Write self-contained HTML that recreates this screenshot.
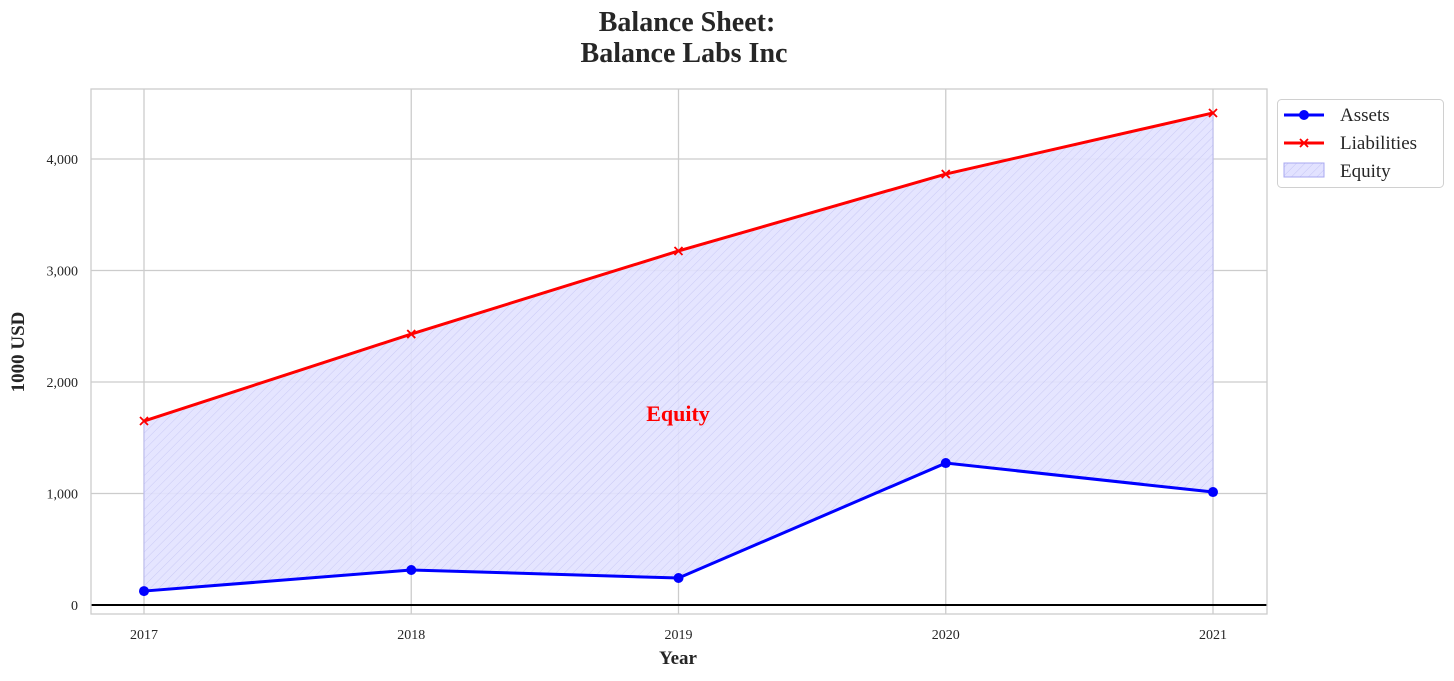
<!DOCTYPE html>
<html><head><meta charset="utf-8"><style>
body{margin:0;background:#fff;}
svg text{font-family:"Liberation Serif",serif;fill:#262626;}
</style></head><body>
<svg id="c" width="1454" height="676">
<defs>
<pattern id="hatch" width="6" height="6" patternUnits="userSpaceOnUse" patternTransform="rotate(45)">
<rect width="6" height="6" fill="#e2e2ff"/>
<line x1="0" y1="0" x2="0" y2="6" stroke="#c4c4f4" stroke-width="1"/>
</pattern>
</defs>
<text x="687" y="31" text-anchor="middle" font-size="28" font-weight="bold">Balance Sheet:</text>
<text x="684" y="62" text-anchor="middle" font-size="28" font-weight="bold">Balance Labs Inc</text>
<g id="grid"></g>
<g id="marks"></g>
<rect x="91" y="89" width="1176" height="525" fill="none" stroke="#cccccc" stroke-width="1.3"/>
<text x="678" y="664" text-anchor="middle" font-size="19" font-weight="bold">Year</text>
<text transform="translate(24,352) rotate(-90)" text-anchor="middle" font-size="19" font-weight="bold">1000 USD</text>
<text x="678" y="421" text-anchor="middle" font-size="22" font-weight="bold" style="fill:#ff0000">Equity</text>
<g>
<rect x="1277.5" y="99.5" width="166" height="88" rx="4" fill="#fff" stroke="#d0d0d0"/>
<g>
<line x1="1284" y1="115" x2="1324" y2="115" stroke="#0000ff" stroke-width="3"/>
<circle cx="1304" cy="115" r="5" fill="#0000ff"/>
<text x="1340" y="121" font-size="19">Assets</text></g>
<g>
<line x1="1284" y1="143" x2="1324" y2="143" stroke="#ff0000" stroke-width="3"/>
<path d="M1300 139 l8 8 M1308 139 l-8 8" stroke="#ff0000" stroke-width="1.8"/>
<text x="1340" y="149" font-size="19">Liabilities</text></g>
<g>
<rect x="1284" y="163" width="40" height="14" fill="url(#hatch)" stroke="#a8a8f0"/>
<text x="1340" y="177" font-size="19">Equity</text></g>
</g>
</svg>
<script>
const years=["2017","2018","2019","2020","2021"];
const assets=[125,314,242,1273,1013];
const liabilities=[1650,2430,3175,3865,4413];
const yTicks=[0,1000,2000,3000,4000];
const yTickLabels=["0","1,000","2,000","3,000","4,000"];
const NS="http://www.w3.org/2000/svg";
const xS=i=>144+i*267.25;
const yS=v=>605-v*0.1115;
function mk(tag,attrs,parent,txt){const e=document.createElementNS(NS,tag);for(const k in attrs)e.setAttribute(k,attrs[k]);if(txt!==undefined)e.textContent=txt;parent.appendChild(e);return e;}
const g=document.getElementById('grid'),m=document.getElementById('marks');
yTicks.forEach((t,i)=>{
 const l=mk('line',{x1:91,x2:1267,y1:yS(t),y2:yS(t),stroke:'#cccccc','stroke-width':1.3},g);
 
 
 const tx=mk('text',{x:78,y:yS(t)+5,'text-anchor':'end','font-size':14},g,yTickLabels[i]);
 
 
});
years.forEach((y,i)=>{
 const l=mk('line',{x1:xS(i),x2:xS(i),y1:89,y2:614,stroke:'#cccccc','stroke-width':1.3},g);
 
 
 const tx=mk('text',{x:xS(i),y:639,'text-anchor':'middle','font-size':14},g,y);
 
 
});
let pts=years.map((_,i)=>xS(i)+','+yS(liabilities[i])).concat(years.map((_,i)=>xS(i)+','+yS(assets[i])).reverse());
const area=mk('polygon',{points:pts.join(' '),fill:'url(#hatch)',stroke:'#b8b8ee','stroke-width':1,'fill-opacity':0.9},m);


const zl=mk('line',{x1:91,x2:1267,y1:yS(0),y2:yS(0),stroke:'#000','stroke-width':2},m);


const la=mk('polyline',{points:years.map((_,i)=>xS(i)+','+yS(assets[i])).join(' '),fill:'none',stroke:'#0000ff','stroke-width':3},m);


const ll=mk('polyline',{points:years.map((_,i)=>xS(i)+','+yS(liabilities[i])).join(' '),fill:'none',stroke:'#ff0000','stroke-width':3},m);


years.forEach((y,i)=>{
 const c=mk('circle',{cx:xS(i),cy:yS(assets[i]),r:5,fill:'#0000ff'},m);
 
 
 const x=xS(i),yy=yS(liabilities[i]);
 const p=mk('path',{d:`M${x-4} ${yy-4}L${x+4} ${yy+4}M${x+4} ${yy-4}L${x-4} ${yy+4}`,stroke:'#ff0000','stroke-width':1.8},m);
 
 
});
</script>
</body></html>
